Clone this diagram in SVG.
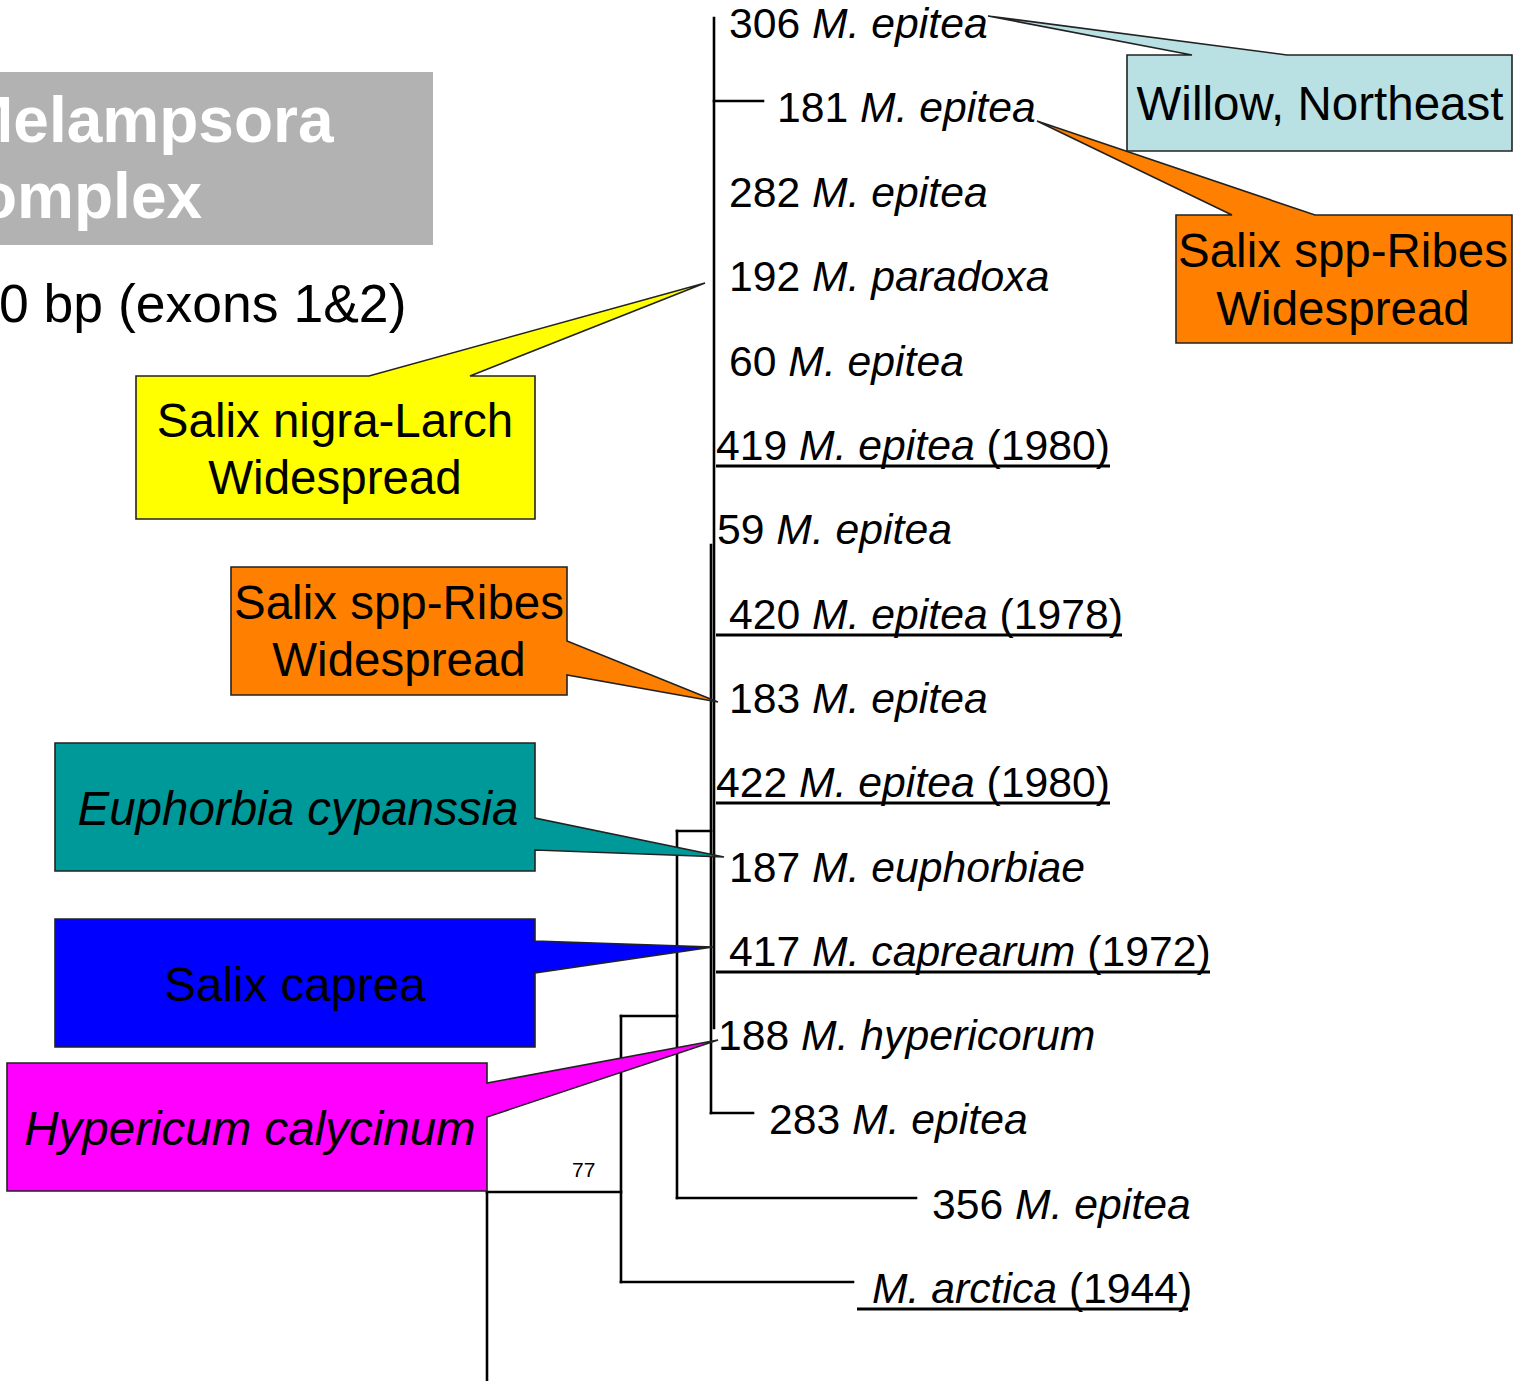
<svg xmlns="http://www.w3.org/2000/svg" width="1522" height="1381" viewBox="0 0 1522 1381">
<style>
text{font-family:"Liberation Sans",Arial,sans-serif;fill:#000}
.leaf{font-size:42.7px}
.i{font-style:italic}
.call{font-size:47.5px;text-anchor:middle}
.box{stroke:#222;stroke-width:1.6;stroke-linejoin:miter}
.tree line{stroke:#000;stroke-width:2.6;stroke-linecap:square}
.ul{stroke:#000;stroke-width:3}
.title{font-size:64px;font-weight:bold;fill:#fff}
</style>
<rect width="1522" height="1381" fill="#fff"/>

<g id="title">
<rect x="-2" y="72" width="435" height="173" fill="#b2b2b2"/>
<text class="title" x="-40" y="142">Melampsora</text>
<text class="title" x="-22" y="218">omplex</text>
<text x="-1" y="322" font-size="53.5">0 bp (exons 1&amp;2)</text>
</g>

<g id="connectors" class="tree">
<line x1="714" y1="18" x2="714" y2="1028"/>
<line x1="714" y1="101" x2="763" y2="101"/>
<line x1="711" y1="545" x2="711" y2="1113"/>
<line x1="711" y1="1113" x2="753" y2="1113"/>
<line x1="677" y1="831" x2="711" y2="831"/>
<line x1="677" y1="831" x2="677" y2="1198"/>
<line x1="677" y1="1198" x2="916" y2="1198"/>
<line x1="621" y1="1016" x2="677" y2="1016"/>
<line x1="621" y1="1016" x2="621" y2="1282"/>
<line x1="621" y1="1282" x2="853" y2="1282"/>
<line x1="487" y1="1192" x2="621" y2="1192"/>
<line x1="487" y1="1192" x2="487" y2="1381"/>
</g>
<text id="bootstrap77" x="572" y="1177" font-size="21">77</text>

<g id="leaves">
<g id="n306"><text class="leaf" x="729" y="38">306 <tspan class="i">M. epitea</tspan></text></g>
<g id="n181"><text class="leaf" x="777" y="122">181 <tspan class="i">M. epitea</tspan></text></g>
<g id="n282"><text class="leaf" x="729" y="207">282 <tspan class="i">M. epitea</tspan></text></g>
<g id="n192"><text class="leaf" x="729" y="291">192 <tspan class="i">M. paradoxa</tspan></text></g>
<g id="n60"><text class="leaf" x="729" y="376">60 <tspan class="i">M. epitea</tspan></text></g>
<g id="n419"><text class="leaf" x="716" y="460">419 <tspan class="i">M. epitea</tspan> (1980)</text><line class="ul" x1="716" y1="466" x2="1110" y2="466"/></g>
<g id="n59"><text class="leaf" x="717" y="544">59 <tspan class="i">M. epitea</tspan></text></g>
<g id="n420"><text class="leaf" x="729" y="629">420 <tspan class="i">M. epitea</tspan> (1978)</text><line class="ul" x1="716" y1="635" x2="1122" y2="635"/></g>
<g id="n183"><text class="leaf" x="729" y="713">183 <tspan class="i">M. epitea</tspan></text></g>
<g id="n422"><text class="leaf" x="716" y="797">422 <tspan class="i">M. epitea</tspan> (1980)</text><line class="ul" x1="716" y1="803" x2="1110" y2="803"/></g>
<g id="n187"><text class="leaf" x="729" y="882">187 <tspan class="i">M. euphorbiae</tspan></text></g>
<g id="n417"><text class="leaf" x="729" y="966">417 <tspan class="i">M. caprearum</tspan> (1972)</text><line class="ul" x1="716" y1="972" x2="1210" y2="972"/></g>
<g id="n188"><text class="leaf" x="718" y="1050">188 <tspan class="i">M. hypericorum</tspan></text></g>
<g id="n283"><text class="leaf" x="769" y="1134">283 <tspan class="i">M. epitea</tspan></text></g>
<g id="n356"><text class="leaf" x="932" y="1219">356 <tspan class="i">M. epitea</tspan></text></g>
<g id="narctica"><text class="leaf" x="872" y="1303"><tspan class="i">M. arctica</tspan> (1944)</text><line class="ul" x1="857" y1="1309" x2="1188" y2="1309"/></g>
</g>

<g id="callout-willow">
<path class="box" fill="#b9e0e3" d="M1127,55 H1192 L988,16 L1287,55 H1512 V151 H1127 Z"/>
<text class="call" x="1320" y="120" font-size="48">Willow, Northeast</text>
</g>
<g id="callout-salix-ribes-right">
<path class="box" fill="#ff8000" d="M1176,215 H1232 L1037,121 L1315,215 H1512 V343 H1176 Z"/>
<text class="call" x="1343" y="267">Salix spp-Ribes</text>
<text class="call" x="1343" y="325">Widespread</text>
</g>
<g id="callout-salix-nigra">
<path class="box" fill="#ffff00" d="M136,376 H369 L705,283 L470,376 H535 V519 H136 Z"/>
<text class="call" x="335" y="437">Salix nigra-Larch</text>
<text class="call" x="335" y="494">Widespread</text>
</g>
<g id="callout-salix-ribes-left">
<path class="box" fill="#ff8000" d="M231,567 H567 V641 L718,702 L567,675 V695 H231 Z"/>
<text class="call" x="399" y="619">Salix spp-Ribes</text>
<text class="call" x="399" y="676">Widespread</text>
</g>
<g id="callout-euphorbia">
<path class="box" fill="#009999" d="M55,743 H535 V818 L724,857 L535,850 V871 H55 Z"/>
<text class="call i" x="298" y="825">Euphorbia cypanssia</text>
</g>
<g id="callout-salix-caprea">
<path class="box" fill="#0000ff" d="M55,919 H535 V941 L713,947 L535,973 V1047 H55 Z"/>
<text class="call" x="295" y="1001">Salix caprea</text>
</g>
<g id="callout-hypericum">
<path class="box" fill="#ff00ff" d="M7,1063 H487 V1083 L718,1040 L487,1117 V1191 H7 Z"/>
<text class="call i" x="250" y="1145">Hypericum calycinum</text>
</g>
</svg>
